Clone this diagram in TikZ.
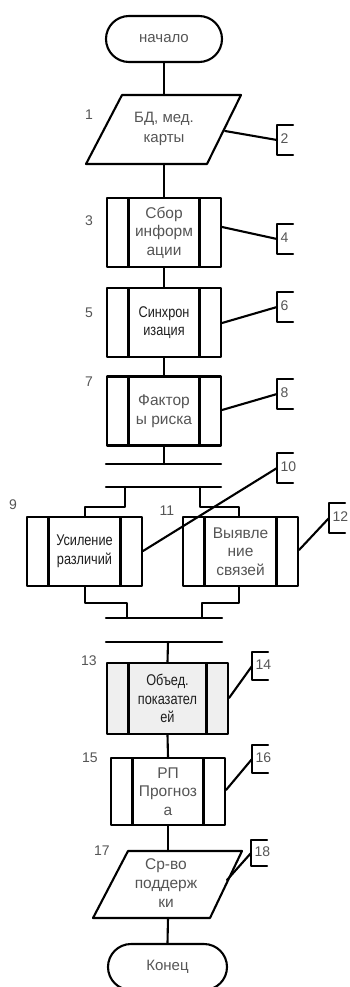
\documentclass[tikz,border=0pt]{standalone}
\usepackage{fontspec}
\setmainfont{Liberation Sans}
\newfontfamily\condfont{Liberation Sans}[FakeStretch=0.82]
\usetikzlibrary{shapes.misc}
\definecolor{txt}{HTML}{555555}
\definecolor{txtd}{HTML}{1E1E1E}
\definecolor{shade}{HTML}{EFEFEF}
\tikzset{
  ln/.style={line width=2.1pt, line cap=round, line join=round},
  lbl/.style={font=\fontsize{14}{15}\selectfont, text=txt, inner sep=0},
  btxt/.style={font=\fontsize{15.5}{19}\selectfont, text=txt, align=center, inner sep=0},
  term/.style={ln, draw, rounded rectangle, minimum width=116pt, minimum height=46pt, inner sep=0, font=\fontsize{15}{18}\selectfont, text=txt},
  pproc/.style={ln, draw, rectangle, minimum width=114pt, minimum height=69pt, inner sep=0, align=center,
     font=\fontsize{15.5}{18.5}\selectfont, text=txt,
     path picture={\draw[line width=2.1pt] ([xshift=21.5pt]path picture bounding box.north west) -- ([xshift=21.5pt]path picture bounding box.south west)
        ([xshift=-21.5pt]path picture bounding box.north east) -- ([xshift=-21.5pt]path picture bounding box.south east);}},
  dark/.style={text=txtd, font=\condfont\fontsize{15.5}{18.5}\selectfont},
}
\begin{document}
\begin{tikzpicture}[x=1pt,y=-1pt]
\useasboundingbox (0,0) rectangle (350,987);
% terminals
\node[term] (start) at (164,39) {начало};
\node[term, minimum width=119pt] (end) at (167.5,967) {Конец};
% parallelogram 1
\draw[ln] (122,95) -- (241,95) -- (207,164) -- (86,164) -- cycle;
\coordinate (p1top) at (164,95);
\coordinate (p1bot) at (164,164);
\coordinate (p1r) at (225,131);
\node[btxt, font=\fontsize{15}{20}\selectfont] (t1) at (164,129) {БД, мед.\\карты};
% boxes
\node[pproc] (b3) at (164,232.5) {Сбор\\информ\\ации};
\node[pproc, dark] (b5) at (164,322.5) {Синхрон\\изация};
\node[pproc] (b7) at (164,411) {Фактор\\ы риска};
\node[pproc, minimum width=115pt, dark] (b9) at (84.5,551.5) {Усиление\\различий};
\node[pproc, minimum width=115pt] (b11) at (240.5,551.5) {Выявле\\ние\\связей};
\node[pproc, minimum width=121pt, minimum height=71pt, fill=shade, dark] (b13) at (167.5,698.5) {Объед.\\показател\\ей};
\node[pproc, minimum height=67pt] (b15) at (168,791.5) {РП\\Прогноз\\а};
% parallelogram 17
\draw[ln] (128,851) -- (242,851) -- (210,918) -- (93,918) -- cycle;
\coordinate (p17top) at (168,851);
\coordinate (p17bot) at (168,918);
\coordinate (p17r) at (227,880);
\node[btxt] (t17) at (166,883) {Ср-во\\поддерж\\ки};
% sync bars
\draw[ln] (106,464) coordinate (s1l) -- (221,464) coordinate (s1r);
\draw[ln] (106,487) coordinate (s2l) -- (221,487) coordinate (s2r);
\draw[ln] (106,618) coordinate (s3l) -- (222,618) coordinate (s3r);
\draw[ln] (106,642) coordinate (s4l) -- (222,642) coordinate (s4r);
% main flow
\draw[ln] (start.south) -- (p1top);
\draw[ln] (p1bot) -- (b3.north);
\draw[ln] (b3.south) -- (b5.north);
\draw[ln] (b5.south) -- (b7.north);
\draw[ln] (b7.south) -- (b7.south |- s1l);
\draw[ln] (125,487) -- (125,507) -- (85,507) -- (b9.north -| 85,0);
\draw[ln] (200,487) -- (200,507) -- (239,507) -- (b11.north -| 239,0);
\draw[ln] (b9.south -| 85,0) -- (85,603) -- (127,603) -- (127,618);
\draw[ln] (b11.south -| 239,0) -- (239,603) -- (202,603) -- (202,618);
\draw[ln] (168,642) -- (b13.north);
\draw[ln] (b13.south) -- (b15.north);
\draw[ln] (b15.south) -- (p17top);
\draw[ln] (p17bot) -- (end.north);
% brackets with comments
\newcommand{\brk}[5]{% name, x, ytop, ybot, label
  \draw[ln] (#2+16,#3) -- (#2,#3) -- (#2,#4) -- (#2+16,#4);
  \coordinate (#1) at (#2,{(#3+#4)/2});
  \node[lbl, anchor=west] (#1t) at (#2+3.5,{(#3+#4)/2-1}) {#5};}
\brk{c2}{277}{125}{155}{2}
\brk{c4}{277}{224}{254}{4}
\brk{c6}{277}{292}{322}{6}
\brk{c8}{277}{379}{409}{8}
\brk{c10}{277}{453}{483}{10}
\brk{c12}{329}{503}{533}{12}
\brk{c14}{252}{652}{680}{14}
\brk{c16}{252}{745}{773}{16}
\brk{c18}{251}{840}{866}{18}
\draw[ln] (p1r) -- (c2);
\draw[ln] (b3.east |- 0,227) -- (c4);
\draw[ln] (b5.east |- 0,323) -- (c6);
\draw[ln] (b7.east |- 0,410) -- (c8);
\draw[ln] (b9.east |- 0,551) -- (c10);
\draw[ln] (b11.east |- 0,550) -- (c12);
\draw[ln] (b13.east |- 0,698) -- (c14);
\draw[ln] (b15.east |- 0,790) -- (c16);
\draw[ln] (p17r) -- (c18);
% numbers
\node[lbl] (n1) at (89,115) {1};
\node[lbl] (n3) at (89,221) {3};
\node[lbl] (n5) at (89,313) {5};
\node[lbl] (n7) at (89,382) {7};
\node[lbl] (n9) at (13,505) {9};
\node[lbl] (n11) at (167,511) {11};
\node[lbl] (n13) at (89,661) {13};
\node[lbl] (n15) at (90,758) {15};
\node[lbl] (n17) at (102,851) {17};
\end{tikzpicture}
\end{document}
